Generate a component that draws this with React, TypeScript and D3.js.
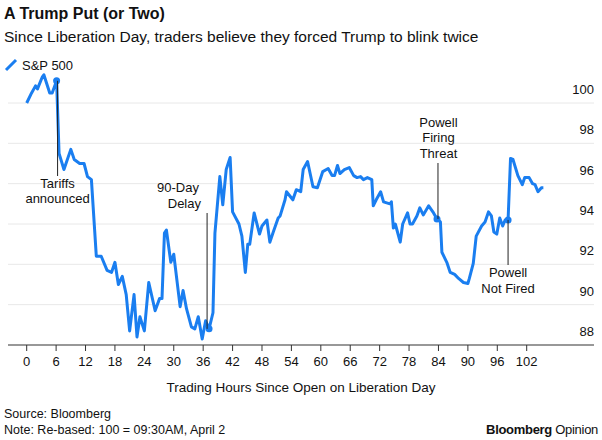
import React from "react";
import * as d3 from "d3";

const hours = [0,1,1.8,2.2,3.2,3.5,4.7,5.2,6.1,6.6,7.6,9,9.7,10.8,11.7,12.4,13.2,14.2,15.2,16.4,17.3,18,18.7,19.5,20.3,21,21.9,22.5,23.1,24,24.9,26.2,27.1,27.6,28.1,28.5,29.4,30,31.3,31.9,32.6,33.6,34.3,35,35.8,36.5,37.2,38,38.4,39.4,40,40.7,41.5,42,43.3,43.9,44.6,45.1,45.5,46.4,47.5,48,49,49.6,50.3,51.3,51.7,52.7,53,54.3,55,55.9,56.4,57.3,58.4,59.3,60.4,61.5,62.3,62.8,63.4,63.9,64.8,65.8,66.7,67.4,68.1,68.7,69.5,70.4,70.7,71.3,72.2,72.8,74.1,74.4,74.8,75.2,76.2,76.7,77.7,78.2,78.7,79.6,80.2,80.9,82,83,83.7,84.4,84.7,85.7,86.4,87.3,88.1,89.1,90,90.3,91.1,91.7,92.8,93.5,94.2,94.8,95.3,95.9,96.5,97.1,97.6,98.2,98.7,99.2,100.2,101.1,101.6,102.5,103.2,103.7,104.3,105,105.4];
const values = [100.0,100.5,100.85,100.7,101.3,101.4,100.5,100.5,101.1,97.5,96.7,97.7,97.2,97.0,97.0,96.35,96.2,92.4,92.4,91.7,91.6,92.1,91.0,91.4,90.5,88.7,90.5,88.4,89.4,88.7,91.1,89.7,90.3,90.3,93.55,93.7,92.1,92.5,89.9,90.7,89.8,88.9,88.8,89.4,88.3,89.2,88.8,89.6,93.55,96.35,94.95,96.7,97.3,94.6,94.0,93.4,91.6,93.0,93.0,94.55,93.5,93.9,94.2,93.1,93.6,94.3,94.4,95.2,95.6,95.2,95.7,95.6,96.7,97.1,95.85,95.8,96.6,96.75,96.4,96.4,96.9,96.5,96.7,96.8,96.4,96.3,96.35,96.2,96.3,96.2,94.9,95.2,95.6,95.1,95.0,95.1,93.8,94.0,93.1,94.0,94.55,94.0,94.0,94.4,94.8,94.45,94.9,94.55,94.25,94.1,92.6,92.1,91.6,91.5,91.3,91.1,91.05,91.3,92.05,93.4,93.9,94.1,94.6,94.4,93.6,93.5,94.3,93.9,94.2,94.2,97.25,97.2,96.4,95.95,96.3,96.3,96.0,95.95,95.6,95.8,95.8];
const xTicks = d3.range(0, 103, 6);
const yTicks = [88, 90, 92, 94, 96, 98, 100];
const markers = [6.1, 37.2, 83.7, 98.2];

const W = 602, H = 440;
const BLUE = "#1a7ef0";
const FONT = "Helvetica, 'Liberation Sans', Arial, sans-serif";

export default function App() {
  const x = d3.scaleLinear().domain([0, 102]).range([26.7, 526.7]);
  const y = d3.scaleLinear().domain([88, 100]).range([345, 103]);
  const line = d3.line<number>().x((_, i) => x(hours[i])).y((d) => y(d));
  const valAt = (h: number) => values[hours.indexOf(h)];
  return (
    <svg width={W} height={H} style={{ position: "absolute", left: 0, top: 0, background: "#fff" }} fontFamily={FONT}>
      <rect width={W} height={H} fill="#fff" />
      <text x={4} y={19} fontSize={16} fontWeight="bold" fill="#111">A Trump Put (or Two)</text>
      <text x={4} y={42} fontSize={15.5} fill="#111">Since Liberation Day, traders believe they forced Trump to blink twice</text>
      <line x1={6} y1={70} x2={16} y2={60} stroke={BLUE} strokeWidth={3} />
      <text x={22} y={70} fontSize={13} fill="#111">S&amp;P 500</text>
      {yTicks.slice(1).map((t) => (
        <line key={t} x1={8} x2={594} y1={y(t)} y2={y(t)} stroke="#e8e8e8" strokeWidth={1} />
      ))}
      {yTicks.map((t) => (
        <text key={t} x={594} y={y(t) - 9} fontSize={13} textAnchor="end" fill="#111">{t}</text>
      ))}
      <line x1={8} x2={594} y1={345} y2={345} stroke="#333" strokeWidth={1.2} />
      {xTicks.map((t) => (
        <g key={t}>
          <line x1={x(t)} x2={x(t)} y1={345} y2={351} stroke="#333" />
          <text x={x(t)} y={366} fontSize={13} textAnchor="middle" fill="#111">{t}</text>
        </g>
      ))}
      <text x={301} y={392} fontSize={13.5} textAnchor="middle" fill="#111">Trading Hours Since Open on Liberation Day</text>
      <path d={line(values) || ""} fill="none" stroke={BLUE} strokeWidth={3} strokeLinejoin="round" />
      {markers.map((m) => (
        <circle key={m} cx={x(m)} cy={y(valAt(m))} r={3.5} fill={BLUE} />
      ))}
      {/* annotations */}
      <line x1={x(6.3)} x2={x(6.3)} y1={y(valAt(6.1))} y2={176} stroke="#222" strokeWidth={1} />
      <text x={x(6.3)} y={188} fontSize={13} textAnchor="middle" fill="#111">Tariffs</text>
      <text x={x(6.3)} y={203} fontSize={13} textAnchor="middle" fill="#111">announced</text>
      <text x={178} y={192} fontSize={13} textAnchor="middle" fill="#111">90-Day</text>
      <text x={183} y={208} fontSize={13} textAnchor="end" fill="#111" dx={18}>Delay</text>
      <line x1={x(36.8)} x2={x(36.8)} y1={213} y2={y(valAt(37.2))} stroke="#222" strokeWidth={1} />
      <text x={x(84)} y={127} fontSize={13} textAnchor="middle" fill="#111">Powell</text>
      <text x={x(84)} y={142} fontSize={13} textAnchor="middle" fill="#111">Firing</text>
      <text x={x(84)} y={158} fontSize={13} textAnchor="middle" fill="#111">Threat</text>
      <line x1={x(83.9)} x2={x(83.9)} y1={163} y2={y(valAt(83.7))} stroke="#222" strokeWidth={1} />
      <line x1={x(98.2)} x2={x(98.2)} y1={y(valAt(98.2))} y2={265} stroke="#222" strokeWidth={1} />
      <text x={x(98.2)} y={277} fontSize={13} textAnchor="middle" fill="#111">Powell</text>
      <text x={x(98.2)} y={293} fontSize={13} textAnchor="middle" fill="#111">Not Fired</text>
      <text x={4} y={418} fontSize={12.5} fill="#111">Source: Bloomberg</text>
      <text x={4} y={434} fontSize={12.5} fill="#111">Note: Re-based: 100 = 09:30AM, April 2</text>
      <text x={598} y={434} fontSize={13} textAnchor="end" fill="#111" fontWeight="bold" letterSpacing={-0.3}>
        Bloomberg <tspan fontWeight="normal">Opinion</tspan>
      </text>
    </svg>
  );
}
